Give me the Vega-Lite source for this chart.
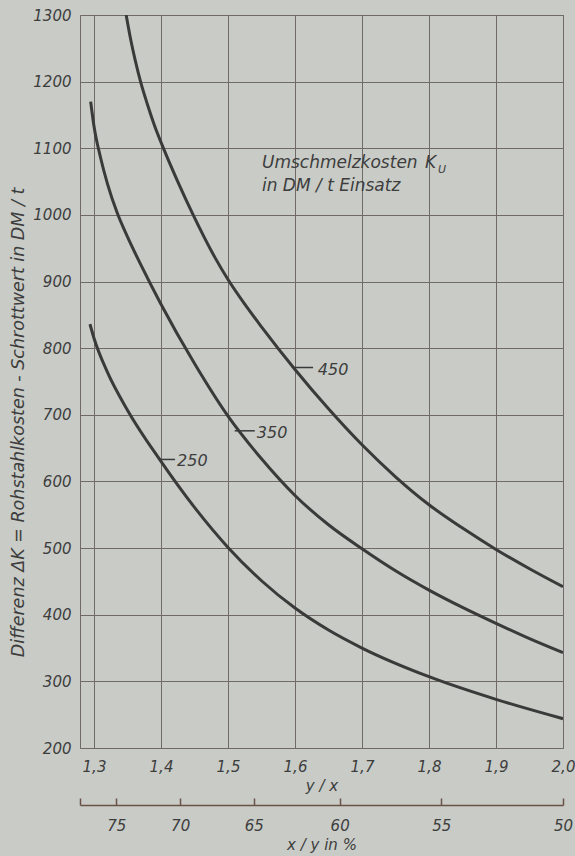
{
  "$schema": "https://vega.github.io/schema/vega-lite/v6.json",
  "width": 483,
  "height": 733,
  "autosize": {"type": "none"},
  "padding": {"left": 80, "top": 15, "right": 12, "bottom": 108},
  "background": "#c8cbc6",
  "config": {
    "view": {"stroke": "#6f6a66", "strokeWidth": 1},
    "font": "DejaVu Sans",
    "text": {"font": "DejaVu Sans", "fontStyle": "italic", "color": "#3d3d3d"}
  },
  "datasets": {
    "curves": [
      {"K": 250, "r": 1.294, "v": 836},
      {"K": 250, "r": 1.3, "v": 815},
      {"K": 250, "r": 1.32, "v": 764},
      {"K": 250, "r": 1.35, "v": 707},
      {"K": 250, "r": 1.4, "v": 630},
      {"K": 250, "r": 1.45, "v": 561},
      {"K": 250, "r": 1.5, "v": 501},
      {"K": 250, "r": 1.55, "v": 451},
      {"K": 250, "r": 1.6, "v": 410},
      {"K": 250, "r": 1.65, "v": 377},
      {"K": 250, "r": 1.7, "v": 350},
      {"K": 250, "r": 1.8, "v": 307},
      {"K": 250, "r": 1.9, "v": 273},
      {"K": 250, "r": 2.0, "v": 244},
      {"K": 350, "r": 1.295, "v": 1170},
      {"K": 350, "r": 1.3, "v": 1133},
      {"K": 350, "r": 1.31, "v": 1085},
      {"K": 350, "r": 1.32, "v": 1047},
      {"K": 350, "r": 1.335, "v": 1002},
      {"K": 350, "r": 1.35, "v": 967},
      {"K": 350, "r": 1.37, "v": 925},
      {"K": 350, "r": 1.4, "v": 866},
      {"K": 350, "r": 1.45, "v": 777},
      {"K": 350, "r": 1.5, "v": 698},
      {"K": 350, "r": 1.55, "v": 634},
      {"K": 350, "r": 1.6, "v": 579},
      {"K": 350, "r": 1.65, "v": 535},
      {"K": 350, "r": 1.7, "v": 499},
      {"K": 350, "r": 1.75, "v": 466},
      {"K": 350, "r": 1.8, "v": 437},
      {"K": 350, "r": 1.85, "v": 411},
      {"K": 350, "r": 1.9, "v": 387},
      {"K": 350, "r": 1.95, "v": 364},
      {"K": 350, "r": 2.0, "v": 343},
      {"K": 450, "r": 1.348, "v": 1300},
      {"K": 450, "r": 1.355, "v": 1262},
      {"K": 450, "r": 1.362, "v": 1230},
      {"K": 450, "r": 1.37, "v": 1198},
      {"K": 450, "r": 1.38, "v": 1165},
      {"K": 450, "r": 1.39, "v": 1135},
      {"K": 450, "r": 1.4045, "v": 1098},
      {"K": 450, "r": 1.425, "v": 1050},
      {"K": 450, "r": 1.448, "v": 1000},
      {"K": 450, "r": 1.48, "v": 937},
      {"K": 450, "r": 1.5, "v": 903},
      {"K": 450, "r": 1.525, "v": 866},
      {"K": 450, "r": 1.55, "v": 832},
      {"K": 450, "r": 1.6, "v": 768},
      {"K": 450, "r": 1.65, "v": 709},
      {"K": 450, "r": 1.7, "v": 655},
      {"K": 450, "r": 1.75, "v": 607},
      {"K": 450, "r": 1.8, "v": 565},
      {"K": 450, "r": 1.85, "v": 530},
      {"K": 450, "r": 1.9, "v": 498},
      {"K": 450, "r": 1.95, "v": 469},
      {"K": 450, "r": 2.0, "v": 442}
    ],
    "leaders": [
      {"label": "450", "r1": 1.597, "r2": 1.627, "v": 771, "rt": 1.634, "vt": 768},
      {"label": "350", "r1": 1.51, "r2": 1.54, "v": 676, "rt": 1.543, "vt": 673},
      {"label": "250", "r1": 1.399, "r2": 1.421, "v": 633, "rt": 1.424, "vt": 631}
    ],
    "notes": [
      {"text": "Umschmelzkosten", "r": 1.5507, "v": 1078, "size": 17},
      {"text": "K", "r": 1.794, "v": 1078, "size": 17},
      {"text": "U", "r": 1.8134, "v": 1068, "size": 11},
      {"text": "in DM / t  Einsatz", "r": 1.5507, "v": 1044, "size": 17}
    ]
  },
  "layer": [
    {
      "data": {"name": "curves"},
      "mark": {"type": "line", "interpolate": "monotone", "strokeWidth": 3, "color": "#3a3a3a", "clip": true},
      "encoding": {
        "x": {
          "field": "r", "type": "quantitative",
          "scale": {"domain": [1.2791, 2.0], "nice": false, "zero": false},
          "axis": {
            "values": [1.3, 1.4, 1.5, 1.6, 1.7, 1.8, 1.9, 2.0],
            "labelExpr": "replace(format(datum.value, '.1f'), '.', ',')",
            "grid": true, "gridColor": "#6f6a66", "gridWidth": 1, "gridOpacity": 1,
            "ticks": false, "domain": false,
            "labelFlush": false, "labelOverlap": false, "labelBound": false,
            "labelPadding": 11, "labelFontSize": 15, "labelFontStyle": "italic", "labelColor": "#3d3d3d", "labelFont": "DejaVu Sans",
            "title": "y / x", "titleFontSize": 15, "titleFontStyle": "italic", "titleFontWeight": "normal",
            "titleColor": "#3d3d3d", "titleFont": "DejaVu Sans", "titlePadding": 4
          }
        },
        "y": {
          "field": "v", "type": "quantitative",
          "scale": {"domain": [200, 1300], "nice": false, "zero": false},
          "axis": {
            "values": [200, 300, 400, 500, 600, 700, 800, 900, 1000, 1100, 1200, 1300],
            "format": "d",
            "grid": true, "gridColor": "#6f6a66", "gridWidth": 1, "gridOpacity": 1,
            "ticks": false, "domain": false,
            "labelFlush": false, "labelOverlap": false, "labelBound": false,
            "labelPadding": 9, "labelFontSize": 15, "labelFontStyle": "italic", "labelColor": "#3d3d3d", "labelFont": "DejaVu Sans",
            "title": "Differenz ΔK = Rohstahlkosten - Schrottwert  in DM / t",
            "titleFontSize": 17.5, "titleFontStyle": "italic", "titleFontWeight": "normal",
            "titleColor": "#3d3d3d", "titleFont": "DejaVu Sans",
            "titleAngle": -90, "titleX": -62, "titleY": 407, "titleAlign": "center", "titleBaseline": "middle"
          }
        },
        "detail": {"field": "K", "type": "nominal"}
      }
    },
    {
      "data": {"name": "leaders"},
      "mark": {"type": "rule", "strokeWidth": 1.5, "color": "#3a3a3a"},
      "encoding": {
        "x": {
          "field": "r1", "type": "quantitative",
          "axis": {
            "orient": "bottom", "offset": 57,
            "values": [1.2791, 1.33333, 1.42857, 1.53846, 1.66667, 1.81818, 2.0],
            "labelExpr": "datum.value < 1.3 ? '' : format(100 / datum.value, '.0f')",
            "grid": false,
            "domain": true, "domainColor": "#6b5248", "domainWidth": 1.5,
            "ticks": true, "tickColor": "#6b5248", "tickWidth": 1.5, "tickSize": -7,
            "labelFlush": false, "labelOverlap": false, "labelBound": false,
            "labelPadding": 20, "labelFontSize": 15, "labelFontStyle": "italic", "labelColor": "#3d3d3d", "labelFont": "DejaVu Sans",
            "title": "x / y  in %", "titleFontSize": 15, "titleFontStyle": "italic", "titleFontWeight": "normal",
            "titleColor": "#3d3d3d", "titleFont": "DejaVu Sans", "titlePadding": 4
          }
        },
        "x2": {"field": "r2"},
        "y": {"field": "v", "type": "quantitative", "axis": null}
      }
    },
    {
      "data": {"name": "leaders"},
      "mark": {"type": "text", "align": "left", "baseline": "middle", "fontSize": 16, "fontStyle": "italic", "color": "#3d3d3d"},
      "encoding": {
        "x": {"field": "rt", "type": "quantitative", "axis": null},
        "y": {"field": "vt", "type": "quantitative", "axis": null},
        "text": {"field": "label"}
      }
    },
    {
      "data": {"name": "notes"},
      "mark": {"type": "text", "align": "left", "baseline": "middle", "fontStyle": "italic", "color": "#3d3d3d"},
      "encoding": {
        "x": {"field": "r", "type": "quantitative", "axis": null},
        "y": {"field": "v", "type": "quantitative", "axis": null},
        "text": {"field": "text"},
        "size": {"field": "size", "type": "quantitative", "scale": null, "legend": null}
      }
    }
  ],
  "resolve": {"axis": {"x": "independent", "y": "independent"}}
}
